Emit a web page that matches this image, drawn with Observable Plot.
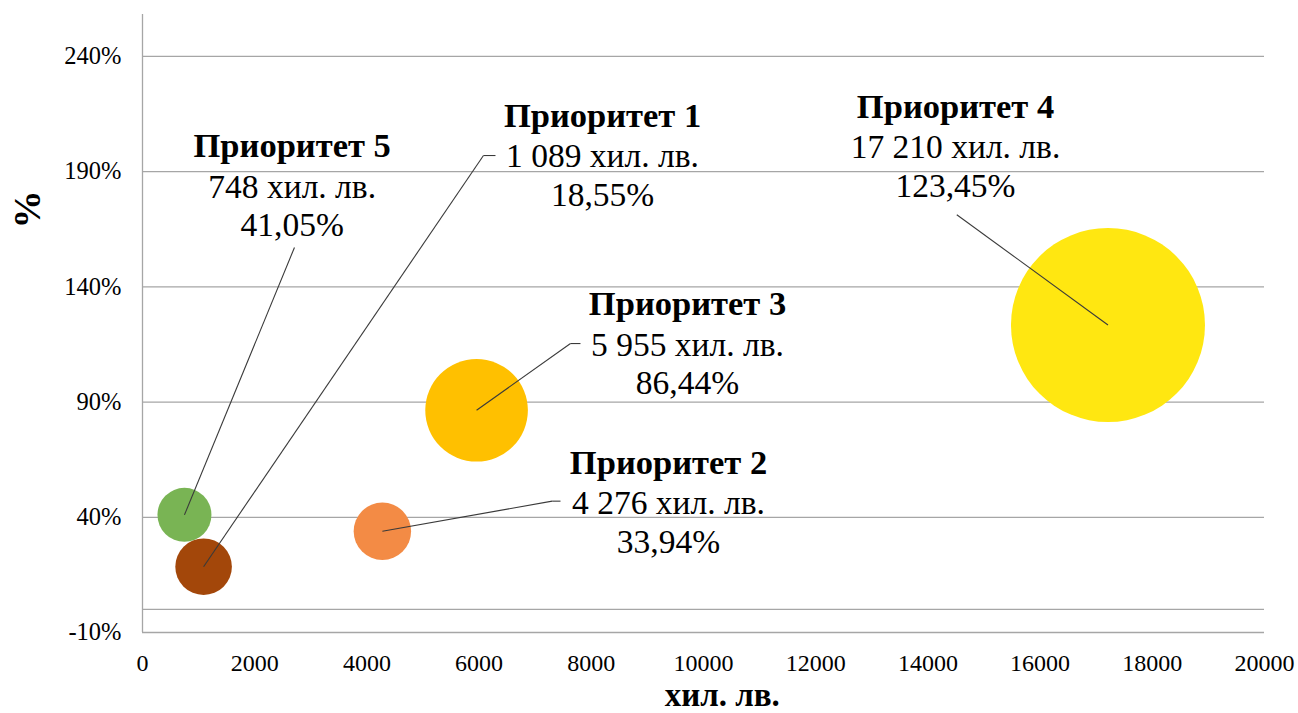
<!DOCTYPE html>
<html>
<head>
<meta charset="utf-8">
<script src="https://cdn.jsdelivr.net/npm/d3@7"></script>
<script src="https://cdn.jsdelivr.net/npm/@observablehq/plot@0.6"></script>
<style>
  html, body { margin: 0; padding: 0; background: #fff; }
  #chart svg { display: block; }
</style>
</head>
<body>
<div id="chart"></div>
<script>
// ---- data ----
const priorities = ["Приоритет 1", "Приоритет 2", "Приоритет 3", "Приоритет 4", "Приоритет 5"];
const amounts = [1089, 4276, 5955, 17210, 748];          // хил. лв.
const percents = [18.55, 33.94, 86.44, 123.45, 41.05];   // %
const bubbleSizes = [801, 824, 2632, 9409, 729];          // relative bubble area
const amountLabels = ["1 089 хил. лв.", "4 276 хил. лв.", "5 955 хил. лв.", "17 210 хил. лв.", "748 хил. лв."];
const percentLabels = ["18,55%", "33,94%", "86,44%", "123,45%", "41,05%"];
const colors = ["#A3470A", "#F38B45", "#FFC000", "#FFE711", "#79B454"];
const xTicks = [0, 2000, 4000, 6000, 8000, 10000, 12000, 14000, 16000, 18000, 20000];
const yTicks = [-10, 40, 90, 140, 190, 240];

// ---- label layout (data units) ----
const labelX = [8200, 9376, 9715, 14492, 2668];
const labelY = [209.4, 58.8, 127.6, 213.5, 196.2];
const leaderX = [6078, 7303, 7629, 14515, 2709];
const leaderY = [197.0, 47.0, 115.4, 171.3, 157.1];
const leaderTailX = [6292, 7451, 7807, null, null];

const rows = priorities.map((name, i) => ({
  name, x: amounts[i], y: percents[i], size: bubbleSizes[i], color: colors[i],
  amt: amountLabels[i], pct: percentLabels[i],
  lx: labelX[i], ly: labelY[i], ex: leaderX[i], ey: leaderY[i], tx: leaderTailX[i]
}));
// draw order: brown (Приоритет 1) on top of green
const drawOrder = [4, 3, 2, 1, 0].map(i => rows[i]);

const font = "'Liberation Serif', 'Times New Roman', serif";
const grid = "#a6a6a6";

const chart = Plot.plot({
  width: 1298,
  height: 713,
  marginLeft: 142,
  marginRight: 34,
  marginTop: 14,
  marginBottom: 81,
  style: { fontFamily: font, fontSize: "24px", color: "#000", background: "#fff", overflow: "visible" },
  x: { domain: [0, 20000] },
  y: { domain: [-10, 258.2] },
  r: { type: "sqrt", domain: [0, 9409], range: [0, 97] },
  color: { type: "identity" },
  marks: [
    Plot.ruleY(yTicks, { stroke: grid, strokeWidth: 1.3 }),
    Plot.ruleY([0], { stroke: grid, strokeWidth: 1.3 }),
    Plot.ruleX([0], { stroke: grid, strokeWidth: 1.3 }),
    Plot.axisX({ ticks: xTicks, tickSize: 0, tickPadding: 21, tickFormat: d => String(d), label: null, fontSize: 24 }),
    Plot.axisY({ ticks: yTicks, tickSize: 0, tickPadding: 21, tickFormat: d => d + "%", label: null, fontSize: 24.5 }),
    Plot.dot(drawOrder, { x: "x", y: "y", r: "size", fill: "color", stroke: null }),
    Plot.link(rows, { x1: "x", y1: "y", x2: "ex", y2: "ey", stroke: "#3a3a3a", strokeWidth: 1.1 }),
    Plot.link(rows.filter(d => d.tx != null), { x1: "ex", y1: "ey", x2: "tx", y2: "ey", stroke: "#3a3a3a", strokeWidth: 1.1 }),
    Plot.text(rows, { x: "lx", y: "ly", text: "name", fontWeight: "bold", fontSize: 34.5, lineAnchor: "bottom", textAnchor: "middle", fill: "#000" }),
    Plot.text(rows, { x: "lx", y: "ly", text: "amt", fontSize: 33.5, lineAnchor: "bottom", textAnchor: "middle", dy: 40.5, fill: "#000" }),
    Plot.text(rows, { x: "lx", y: "ly", text: "pct", fontSize: 33.5, lineAnchor: "bottom", textAnchor: "middle", dy: 79, fill: "#000" }),
    Plot.text(["хил. лв."], { frameAnchor: "bottom", text: d => d, fontWeight: "bold", fontSize: 33, lineAnchor: "bottom", dx: 18.7, dy: 73, fill: "#000" }),
    Plot.text(["%"], { frameAnchor: "left", text: d => d, fontWeight: "bold", fontSize: 38, rotate: -90, dx: -114.5, dy: -95, fill: "#000" })
  ]
});
document.getElementById("chart").appendChild(chart);
</script>
</body>
</html>
